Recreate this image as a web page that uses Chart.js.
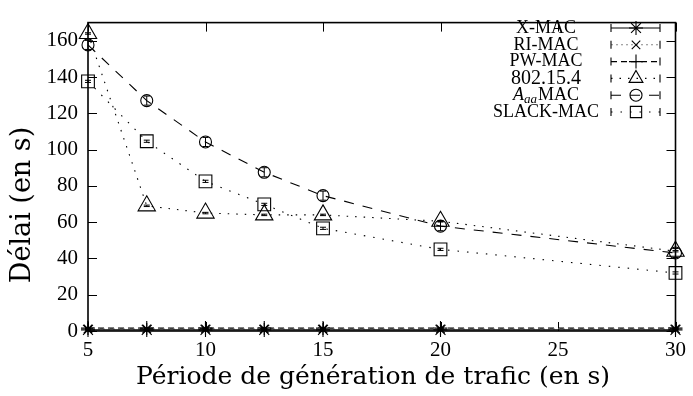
<!DOCTYPE html>
<html><head><meta charset="utf-8">
<script src="https://cdn.jsdelivr.net/npm/chart.js@4.4.0/dist/chart.umd.min.js"></script>
<style>html,body{margin:0;padding:0;background:#fff;overflow:hidden}</style>
</head><body>
<canvas id="c" width="693" height="396" style="width:693px;height:396px;display:block"></canvas>
<script>
// ---- data ----
const periods = [5, 7.5, 10, 12.5, 15, 20, 30];
const xTickValues = [5, 10, 15, 20, 25, 30];
const yTickValues = [0, 20, 40, 60, 80, 100, 120, 140, 160];
const seriesLabels = ['X-MAC', 'RI-MAC', 'PW-MAC', '802.15.4', 'AaaMAC', 'SLACK-MAC'];
const xmacDelay  = [0.6, 0.6, 0.6, 0.6, 0.6, 0.6, 0.6];
const rimacDelay = [1.1, 1.1, 1.1, 1.1, 1.1, 1.1, 1.1];
const pwmacDelay = [1.6, 1.6, 1.6, 1.6, 1.6, 1.6, 1.6];
const ieeeDelay  = [164, 69, 65, 64, 64, 60.5, 44];
const aaaDelay   = [157.7, 127, 104.2, 87.5, 74.6, 57.8, 43];
const slackDelay = [137.6, 104.6, 82.5, 69.8, 56.6, 45, 32];
const xmacErr  = [0.2, 0.2, 0.2, 0.2, 0.2, 0.2, 0.2];
const rimacErr = [0.2, 0.2, 0.2, 0.2, 0.2, 0.2, 0.2];
const pwmacErr = [0.2, 0.2, 0.2, 0.2, 0.2, 0.2, 0.2];
const ieeeErr  = [0.4, 0.4, 0.4, 0.4, 0.4, 0.4, 0.4];
const aaaErr   = [2.5, 2.5, 2.5, 2.5, 2.5, 2.5, 2.5];
const slackErr = [0.6, 0.6, 0.6, 0.6, 0.6, 0.6, 0.6];
const xTitle = 'Période de génération de trafic (en s)';
const yTitle = 'Délai (en s)';

const toPts = arr => arr.map((v, i) => ({x: periods[i], y: v}));
const SERIF = "'Liberation Serif', serif";
const TITLEFONT = "'DejaVu Serif', serif";

function ds(label, data, err, color, dash, style, radius) {
  return {
    label, data: toPts(data), errors: err,
    borderColor: color, borderWidth: 1.1, borderDash: dash,
    pointStyle: style, pointRadius: radius, pointHoverRadius: radius,
    pointBorderColor: '#000', pointBackgroundColor: 'rgba(0,0,0,0)', pointBorderWidth: 1.1,
    fill: false, tension: 0, clip: false
  };
}

const datasets = [
  ds(seriesLabels[0], xmacDelay, xmacErr, '#000', [], 'star', 7),
  ds(seriesLabels[1], rimacDelay, rimacErr, '#888', [2, 3], 'crossRot', 6),
  ds(seriesLabels[2], pwmacDelay, pwmacErr, '#000', [6, 4], 'cross', 7),
  ds(seriesLabels[3], ieeeDelay, ieeeErr, '#000', [1.5, 7], 'triangle', 10),
  ds(seriesLabels[4], aaaDelay, aaaErr, '#000', [10, 9], 'circle', 6),
  ds(seriesLabels[5], slackDelay, slackErr, '#000', [1.5, 8], 'rect', 9)
];

const framePlugin = {
  id: 'frame',
  beforeDatasetsDraw(chart) {
    const {ctx, chartArea: a, scales: {x, y}} = chart;
    ctx.save();
    ctx.strokeStyle = '#000';
    ctx.lineWidth = 1;
    const tl = 9;
    ctx.beginPath();
    xTickValues.forEach(v => {
      const px = Math.round(x.getPixelForValue(v)) + 0.5;
      ctx.moveTo(px, a.bottom); ctx.lineTo(px, a.bottom - tl);
      ctx.moveTo(px, a.top); ctx.lineTo(px, a.top + tl);
    });
    yTickValues.forEach(v => {
      const py = Math.round(y.getPixelForValue(v)) + 0.5;
      ctx.moveTo(a.left, py); ctx.lineTo(a.left + tl, py);
      ctx.moveTo(a.right, py); ctx.lineTo(a.right - tl, py);
    });
    ctx.stroke();
    ctx.lineWidth = 1.6;
    ctx.strokeRect(a.left, a.top, a.right - a.left, a.bottom - a.top);
    ctx.restore();
  },
  afterDatasetsDraw(chart) {
    const {ctx, scales: {x, y}} = chart;
    ctx.save();
    chart.data.datasets.forEach(d => {
      ctx.strokeStyle = '#000';
      ctx.lineWidth = 1;
      ctx.setLineDash([]);
      ctx.beginPath();
      d.data.forEach((p, i) => {
        const e = d.errors[i];
        const px = x.getPixelForValue(p.x);
        const y1 = y.getPixelForValue(p.y - e), y2 = y.getPixelForValue(p.y + e);
        ctx.moveTo(px, y1); ctx.lineTo(px, y2);
        ctx.moveTo(px - 3, y1); ctx.lineTo(px + 3, y1);
        ctx.moveTo(px - 3, y2); ctx.lineTo(px + 3, y2);
      });
      ctx.stroke();
    });
    ctx.restore();
  },
  afterDraw(chart) {
    const {ctx} = chart;
    const textCenter = 546, s0 = 611, s1 = 660, mid = 636;
    ctx.save();
    // axis titles
    ctx.fillStyle = '#000';
    ctx.textAlign = 'center';
    ctx.textBaseline = 'middle';
    ctx.font = '25px ' + TITLEFONT;
    ctx.fillText(xTitle, 373, 377);
    ctx.save();
    ctx.translate(23, 205);
    ctx.rotate(-Math.PI / 2);
    ctx.font = '27px ' + TITLEFONT;
    ctx.fillText(yTitle, 0, 0);
    ctx.restore();
    // legend
    chart.data.datasets.forEach((d, i) => {
      const yy = 28 + i * 16.8;
      ctx.fillStyle = '#000';
      ctx.textBaseline = 'middle';
      if (d.label === 'AaaMAC') {
        const big = "italic 18px " + SERIF, small = "italic 13px " + SERIF, reg = "18px " + SERIF;
        ctx.font = big; const wA = ctx.measureText('A').width;
        ctx.font = small; const wa = ctx.measureText('aa').width;
        ctx.font = reg; const wM = ctx.measureText('MAC').width;
        let xx = textCenter - (wA + wa + wM + 1) / 2;
        ctx.textAlign = 'left';
        ctx.font = big; ctx.fillText('A', xx, yy); xx += wA;
        ctx.font = small; ctx.fillText('aa', xx, yy + 4); xx += wa + 1;
        ctx.font = reg; ctx.fillText('MAC', xx, yy);
      } else {
        ctx.textAlign = 'center';
        ctx.font = (d.label === '802.15.4' ? '20px ' : '18px ') + SERIF;
        ctx.fillText(d.label, textCenter, yy);
      }
      ctx.strokeStyle = d.borderColor;
      ctx.lineWidth = d.borderWidth;
      ctx.setLineDash(d.borderDash);
      ctx.beginPath(); ctx.moveTo(s0, yy); ctx.lineTo(s1, yy); ctx.stroke();
      ctx.setLineDash([]);
      ctx.strokeStyle = '#000';
      ctx.beginPath();
      ctx.moveTo(s0, yy - 4); ctx.lineTo(s0, yy + 4);
      ctx.moveTo(s1, yy - 4); ctx.lineTo(s1, yy + 4);
      ctx.stroke();
      ctx.lineWidth = d.pointBorderWidth;
      ctx.fillStyle = 'rgba(0,0,0,0)';
      ctx.strokeStyle = '#000';
      Chart.helpers.drawPoint(ctx, {pointStyle: d.pointStyle, radius: Math.min(d.pointRadius, 8), rotation: 0, borderWidth: d.pointBorderWidth}, mid, yy);
    });
    ctx.restore();
  }
};

new Chart(document.getElementById('c'), {
  type: 'line',
  data: {datasets},
  options: {
    responsive: false, animation: false, devicePixelRatio: 1,
    layout: {padding: {top: 8, right: 14, left: 0, bottom: 0}},
    plugins: {legend: {display: false}, tooltip: {enabled: false}},
    scales: {
      x: {
        type: 'linear', min: 5, max: 30,
        afterBuildTicks: s => { s.ticks = xTickValues.map(v => ({value: v})); },
        afterFit: s => { s.height = 65; },
        grid: {display: false, drawTicks: false},
        border: {display: false},
        ticks: {color: '#000', font: {family: SERIF, size: 21}, padding: 7, maxRotation: 0},
        title: {display: false}
      },
      y: {
        type: 'linear', min: 0, max: 170,
        afterBuildTicks: s => { s.ticks = yTickValues.map(v => ({value: v})); },
        afterFit: s => { s.width = 88; },
        grid: {display: false, drawTicks: false},
        border: {display: false},
        ticks: {color: '#000', font: {family: SERIF, size: 21}, padding: 10},
        title: {display: false}
      }
    }
  },
  plugins: [framePlugin]
});
</script>
</body></html>
